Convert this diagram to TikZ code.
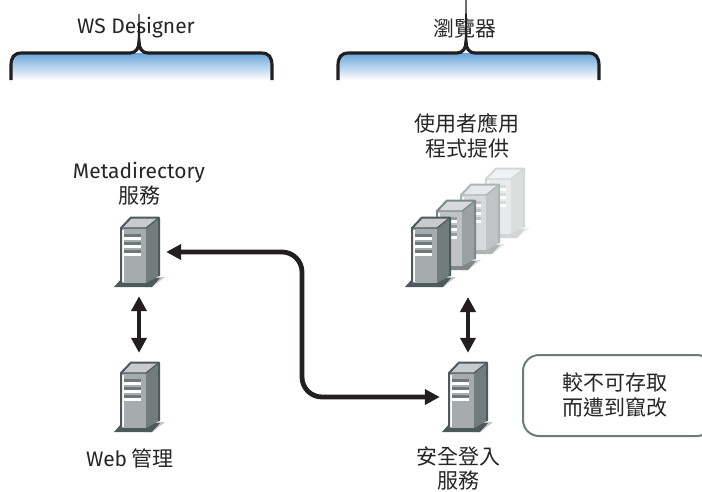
\documentclass[tikz,border=0pt]{standalone}
\usepackage{fontspec}
\setmainfont{Fira Sans}
\newfontfamily\cjk{Noto Sans CJK TC}
\usepackage{tikz}
\usetikzlibrary{positioning,arrows.meta}

\definecolor{srvline}{HTML}{4C5A5B}
\definecolor{srvfront}{HTML}{A6ABAE}
\definecolor{srvside}{HTML}{727C7C}
\definecolor{srvtop}{HTML}{C8CBCE}
\definecolor{srvbar}{HTML}{6F7878}
\definecolor{srvshadow}{HTML}{BFC4C6}
\definecolor{barline}{HTML}{231F20}
\definecolor{barblue}{HTML}{68A5DB}
\definecolor{noteline}{HTML}{6E7B7C}

\tikzset{
  srvbox/.style={minimum width=54pt, minimum height=88pt, inner sep=0pt},
  lbl/.style={align=center, font=\fontsize{21}{25}\selectfont, text=black!85, inner sep=0pt},
  cjklbl/.style={lbl, font=\fontsize{21}{25}\cjk},
  link/.style={line width=4.8pt, draw=barline, rounded corners=20pt, {Triangle[length=15pt,width=15pt]}-{Triangle[length=15pt,width=15pt]}},
  bracketline/.style={line width=3.2pt, draw=barline},
  pics/server/.style={code={
    \fill[srvshadow!#1!white] (5,35) -- (13,35) -- (26,25) -- (18,25) -- cycle;
    \fill[srvline!#1!white] (-25,35) -- (13,35) -- (21,26) -- (-17,26) -- cycle;
    \fill[srvside!#1!white] (7,-24) -- (20,-35) -- (20,24) -- (7,31) -- cycle;
    \fill[srvtop!#1!white] (-19,-24) -- (-8,-35) -- (20,-35) -- (7,-24) -- cycle;
    \fill[srvfront!#1!white] (-19,-24) rectangle (7,31);
    \fill[white] (-17,-22) rectangle (-15,30);
    \foreach \y in {-15,-7,1} {
      \fill[white] (-17,\y) rectangle (2,\y+3);
      \fill[srvbar!#1!white] (-15,\y-3.5) rectangle (2,\y);
    }
    \draw[srvline!#1!white, line width=2pt, line join=round] (-18,31) -- (-18,-24) -- (-8,-34.5) -- (20,-34.5) -- (20,24);
    \draw[srvline!#1!white, line width=1.2pt] (-18,-24) -- (7,-24) -- (20,-34.5);
  }},
  pics/topbracket/.style={code={
    \shade[top color=barblue, bottom color=white] (-128,66) -- (-128,52) .. controls (-128,43) and (-125,39) .. (-117,39) -- (122,39) .. controls (130,39) and (133,43) .. (133,52) -- (133,66) -- cycle;
    \draw[bracketline] (-128,66) -- (-128,52) .. controls (-128,43) and (-125,39) .. (-117,39) -- (-9,39)
      .. controls (-3,39) and (0,34) .. (0,28) .. controls (0,34) and (3,39) .. (9,39)
      -- (122,39) .. controls (130,39) and (133,43) .. (133,52) -- (133,66);
    \fill[barline] (-1.3,30) -- (-.5,#1) -- (.5,#1) -- (1.3,30) -- cycle;
  }},
}

\begin{document}
\begin{tikzpicture}[x=1pt, y=-1pt, node distance=10pt]
\useasboundingbox (0,0) rectangle (702,491);

% headers
\node[lbl] (wsd) at (136,28) {WS Designer};
\node[cjklbl] (browser) at (465,29) {瀏覽器};
\pic at (139,14) {topbracket={0}};
\pic at (466,14) {topbracket={-14}};

% servers
\node[srvbox] (meta) at (139,252) {};
\node[srvbox] (web) at (139,397) {};
\node[srvbox] (login) at (467,397) {};
\node[srvbox] (front) at (430,252) {};
\pic at (meta) {server=100};
\pic at (web) {server=100};
\pic at (login) {server=100};
\pic at (504,203) {server=25};
\pic at (479,219) {server=45};
\pic at (455,235) {server=72};
\pic at (front) {server=100};

% labels
\node[lbl] (metalbl) at (139,184) {Metadirectory\\{\cjk 服務}};
\node[cjklbl] (weblbl) at (130,458) {{\fontspec{Fira Sans}Web} 管理};
\node[cjklbl] (applbl) at (467,135.5) {使用者應用\\程式提供};
\node[cjklbl, font=\fontsize{21}{23.5}\cjk] (loginlbl) at (458,468.5) {安全登入\\服務};
\node[draw=noteline, line width=2pt, rounded corners=16pt, minimum width=190pt, minimum height=81pt] (note) at (618,395.5) {};
\node[cjklbl] (notelbl) at (615,395.5) {較不可存取\\而遭到竄改};

% connectors
\coordinate (apptip) at (468,297);
\draw[link] (meta.south) -- (web.north);
\draw[link] (apptip) -- (login.north -| apptip);
\draw[link] (meta.east) -- (302,252) -- (302,397) -- (login.west);
\end{tikzpicture}
\end{document}
